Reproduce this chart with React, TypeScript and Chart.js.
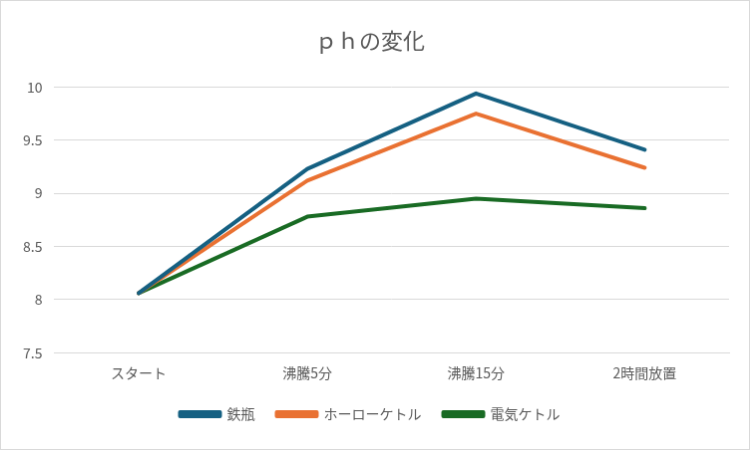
import React, { useEffect, useRef } from "react";
import { Chart, registerables } from "chart.js";
Chart.register(...registerables);

const categories = ["スタート", "沸騰5分", "沸騰15分", "2時間放置"];
const tetsubin = [8.06, 9.23, 9.94, 9.41];
const horo = [8.06, 9.12, 9.75, 9.24];
const denki = [8.06, 8.78, 8.95, 8.86];
const font = "'Noto Sans CJK JP', 'Noto Sans', sans-serif";

export default function App() {
  const ref = useRef<HTMLCanvasElement>(null);
  useEffect(() => {
    const mk = (label: string, data: number[], color: string) => ({
      label, data, borderColor: color, backgroundColor: color, borderWidth: 4,
      pointRadius: 0, tension: 0, borderJoinStyle: "round" as const, borderCapStyle: "round" as const,
    });
    const chart = new Chart(ref.current!, {
      type: "line",
      data: {
        labels: categories,
        datasets: [mk("鉄瓶", tetsubin, "#156082"), mk("ホーローケトル", horo, "#E97132"), mk("電気ケトル", denki, "#196B24")],
      },
      options: {
        animation: false, responsive: false,
        layout: { padding: { left: 10, right: 20, top: 26, bottom: 18 } },
        plugins: {
          title: { display: true, text: "ｐｈの変化", color: "#595959", font: { family: font, size: 22, weight: "normal" }, padding: { bottom: 34 } },
          legend: { position: "bottom", labels: { color: "#595959", font: { family: font, size: 14 }, boxWidth: 40, boxHeight: 4, padding: 22 } },
          tooltip: { enabled: false },
        },
        scales: {
          x: { offset: true, grid: { display: false }, border: { color: "#d9d9d9" },
            ticks: { color: "#595959", font: { family: font, size: 14 }, padding: 4 } },
          y: { min: 7.5, max: 10, grid: { color: "#d9d9d9", drawTicks: false }, border: { display: false },
            ticks: { stepSize: 0.5, color: "#595959", font: { family: font, size: 14 }, padding: 12, callback: (v: any) => String(v) } },
        },
      },
    });
    return () => chart.destroy();
  }, []);
  return (
    <div style={{ position: "fixed", left: 0, top: 0, width: 752, height: 452, background: "#fff" }}>
      <canvas ref={ref} width={750} height={450} style={{ border: "1px solid #d9d9d9" }} />
    </div>
  );
}
